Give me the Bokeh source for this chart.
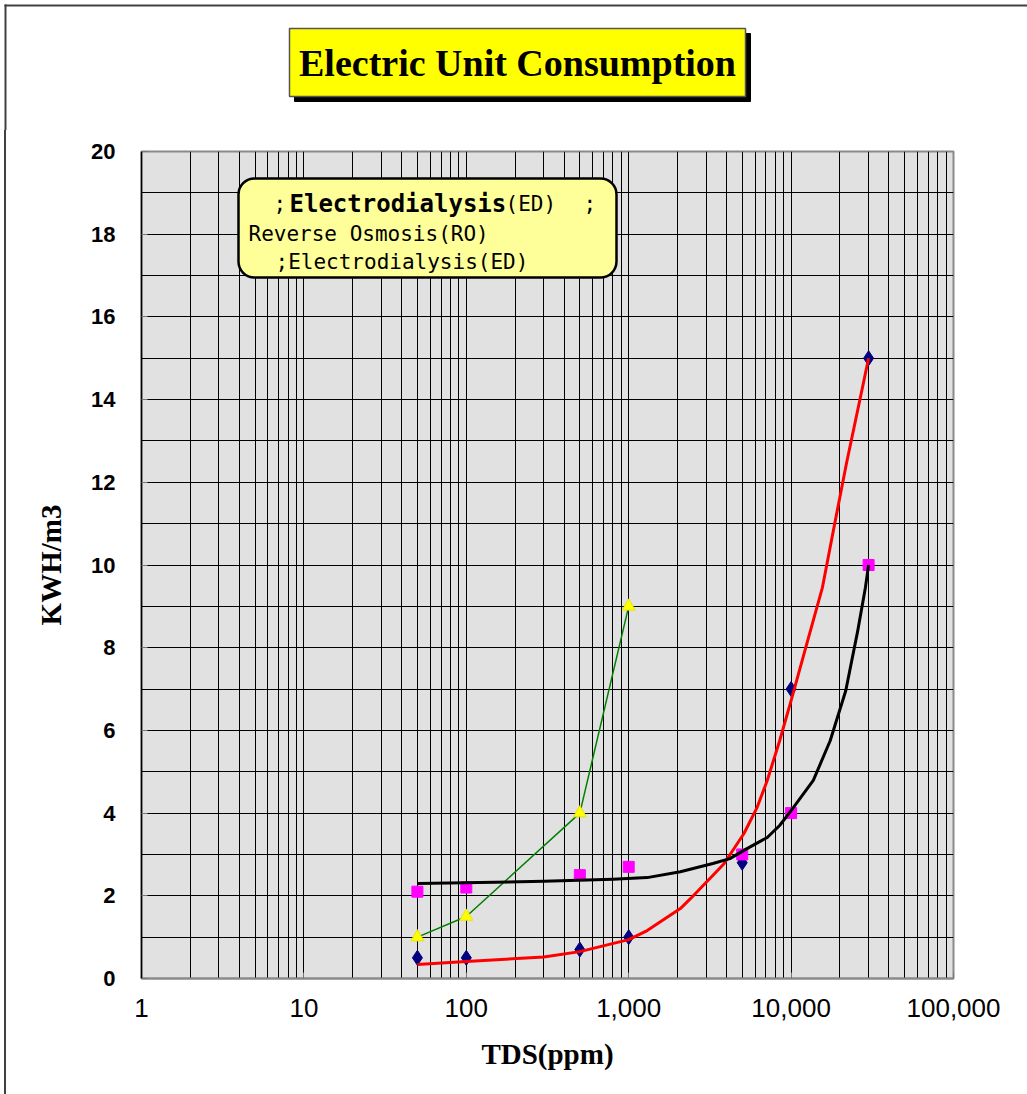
from bokeh.plotting import figure
from bokeh.layouts import column, row
from bokeh.models import Range1d, FixedTicker, NumeralTickFormatter, BoxAnnotation, Label, Div
from bokeh.embed import file_html
from bokeh.resources import INLINE

# Measured specific energy (kWh/m3) against feed salinity (TDS, ppm)
ed_tds = [50, 100, 500, 1000, 5000, 10000, 30000]
ed_kwh = [0.5, 0.5, 0.7, 1.0, 2.8, 7.0, 15.0]

ro_tds = [50, 100, 500, 1000, 5000, 10000, 30000]
ro_kwh = [2.1, 2.2, 2.5, 2.7, 3.0, 4.0, 10.0]

edr_tds = [50, 100, 500, 1000]
edr_kwh = [1.0, 1.5, 4.0, 9.0]

# Trend curves through the measured points
ed_fit_tds = [50, 100, 300, 500, 1000, 1300, 2080, 2400, 3850, 5115, 6180, 7130,
              8500, 10000, 12500, 15600, 18200, 21900, 26700, 30000]
ed_fit_kwh = [0.34, 0.41, 0.52, 0.65, 0.94, 1.16, 1.69, 1.93, 2.77, 3.50, 4.14, 4.79,
              5.75, 6.72, 8.1, 9.46, 10.83, 12.45, 14.05, 15.0]

ro_fit_tds = [50, 300, 800, 1300, 2080, 3300, 4200, 5350, 7130, 8500, 10000, 13700,
              17400, 21700, 25700, 28700, 30000]
ro_fit_kwh = [2.30, 2.35, 2.40, 2.44, 2.58, 2.78, 2.90, 3.14, 3.41, 3.70, 4.06, 4.79,
              5.75, 6.96, 8.4, 9.46, 10.0]

x_major = [1, 10, 100, 1000, 10000, 100000]
x_minor = [m * 10 ** e for e in range(5) for m in range(2, 10)]
y_major = list(range(0, 21, 2))
y_minor = list(range(1, 20, 2))

title_text = "Electric Unit Consumption"

PAGE_W, PAGE_H = 1027, 1094
HEAD_H = 130          # height of the heading strip
STRIP_W = 10          # left page-edge strip beside the chart
FRAME_L, FRAME_T, FRAME_R, FRAME_B = 141, 151, 953, 978
FRAME_LINE = "#404040"


def blank(width, height):
    f = figure(width=width, height=height, x_range=Range1d(0, 1), y_range=Range1d(0, 1),
               output_backend="svg", toolbar_location=None, title=None,
               x_axis_location=None, y_axis_location=None, min_border=0,
               background_fill_color="white", border_fill_color="white")
    f.outline_line_color = None
    f.grid.visible = False
    return f


def sbox(fig, **kw):
    kw.setdefault("fill_alpha", 1)
    kw.setdefault("line_alpha", 1)
    fig.add_layout(BoxAnnotation(left_units="screen", right_units="screen",
                                 top_units="screen", bottom_units="screen", **kw))


# ---- heading strip: page edge + title box with drop shadow
head = blank(PAGE_W, HEAD_H)
sbox(head, left=4, right=PAGE_W + 20, top=HEAD_H - 4, bottom=HEAD_H - 6,
     fill_color=FRAME_LINE, line_color=None)
sbox(head, left=4, right=6, top=HEAD_H - 4, bottom=-20, fill_color=FRAME_LINE, line_color=None)
sbox(head, left=294, right=750, top=HEAD_H - 33, bottom=HEAD_H - 101,
     fill_color="black", line_color="black")
sbox(head, left=289, right=745, top=HEAD_H - 28, bottom=HEAD_H - 96,
     fill_color="#ffff00", line_color="#555555", line_width=1.5)
head.add_layout(Label(x=517, y=HEAD_H - 62, x_units="screen", y_units="screen",
                      text=title_text, text_font="Liberation Serif", text_font_style="bold",
                      text_font_size="38px", text_color="black",
                      text_align="center", text_baseline="middle"))

# ---- left page edge beside the chart
CH_H = PAGE_H - HEAD_H
edge = Div(text="", width=STRIP_W, height=CH_H, margin=0,
           styles={"background": "linear-gradient(to right, white 0px, white 4px, "
                   f"{FRAME_LINE} 4px, {FRAME_LINE} 6px, white 6px, white 100%)"})

# ---- main chart
FL = FRAME_L - STRIP_W
p = figure(width=PAGE_W - STRIP_W, height=CH_H, x_axis_type="log",
           x_range=Range1d(1, 100000), y_range=Range1d(0, 20),
           output_backend="svg", toolbar_location=None, title=None,
           min_border_left=FL, min_border_right=PAGE_W - FRAME_R,
           min_border_top=FRAME_T - HEAD_H, min_border_bottom=PAGE_H - FRAME_B,
           background_fill_color="#e1e1e1", border_fill_color="white")

p.outline_line_color = "#8a8a8a"
p.outline_line_width = 2

p.xaxis.ticker = FixedTicker(ticks=x_major, minor_ticks=x_minor)
p.yaxis.ticker = FixedTicker(ticks=y_major, minor_ticks=y_minor)
p.xaxis.formatter = NumeralTickFormatter(format="0,0")

p.xaxis.axis_label = "TDS(ppm)"
p.yaxis.axis_label = "KWH/m3"
for ax in (p.xaxis, p.yaxis):
    ax.axis_label_text_font = "Liberation Serif"
    ax.axis_label_text_font_style = "bold"
    ax.axis_label_text_font_size = "29px"
    ax.axis_label_text_color = "black"
    ax.major_label_text_color = "black"
    ax.major_tick_in = 6
    ax.major_tick_out = 0
    ax.major_tick_line_color = "#777777"
    ax.minor_tick_line_color = None

p.xaxis.major_label_text_font = "Liberation Sans"
p.xaxis.major_label_text_font_size = "26px"
p.xaxis.major_label_standoff = 16
p.xaxis.axis_label_standoff = 18
p.xaxis.axis_line_color = "#8a8a8a"
p.xaxis.axis_line_width = 2

p.yaxis.major_label_text_font = "Liberation Sans"
p.yaxis.major_label_text_font_style = "bold"
p.yaxis.major_label_text_font_size = "22px"
p.yaxis.major_label_standoff = 22
p.yaxis.axis_label_standoff = 21
p.yaxis.axis_line_color = "black"
p.yaxis.axis_line_width = 1.5

for g in (p.xgrid, p.ygrid):
    g.grid_line_color = "black"
    g.grid_line_width = 1
    g.minor_grid_line_color = "black"
    g.minor_grid_line_width = 1

# series
p.line(edr_tds, edr_kwh, line_color="#008000", line_width=1.5)
p.scatter(edr_tds, edr_kwh, marker="triangle", size=13, fill_color="#ffff00", line_color="#e6e600")
p.scatter(ed_tds, ed_kwh, marker="diamond", size=15, fill_color="#000080", line_color="#000080")
p.scatter(ro_tds, ro_kwh, marker="square", size=11, fill_color="#ff00ff", line_color="#ff00ff")
p.line(ed_fit_tds, ed_fit_kwh, line_color="#ff0000", line_width=3, line_join="round")
p.line(ro_fit_tds, ro_fit_kwh, line_color="black", line_width=3, line_join="round")

# note box inside the chart
sbox(p, left=238 - FRAME_L, right=616 - FRAME_L, top=FRAME_B - 178, bottom=FRAME_B - 277,
     fill_color="#ffff99", line_color="black", line_width=2.5, border_radius=16)

mono = "DejaVu Sans Mono"
note = dict(x_units="screen", y_units="screen", text_font=mono,
            text_color="black", text_align="left", text_baseline="middle")
notes = [
    (273, 203, ";", "normal", "21px"),
    (289, 203, "Electrodialysis", "bold", "24px"),
    (505, 203, "(ED)", "normal", "21px"),
    (583, 203, ";", "normal", "21px"),
    (248, 233, "Reverse Osmosis(RO)", "normal", "21px"),
    (275, 261, ";Electrodialysis(ED)", "normal", "21px"),
]
for nx, ny, txt, style, size in notes:
    p.add_layout(Label(x=nx - FRAME_L, y=FRAME_B - ny, text=txt,
                       text_font_style=style, text_font_size=size, **note))

layout = column(head, row(edge, p, spacing=0), spacing=0)
open("out.html", "w").write(file_html(layout, INLINE))
